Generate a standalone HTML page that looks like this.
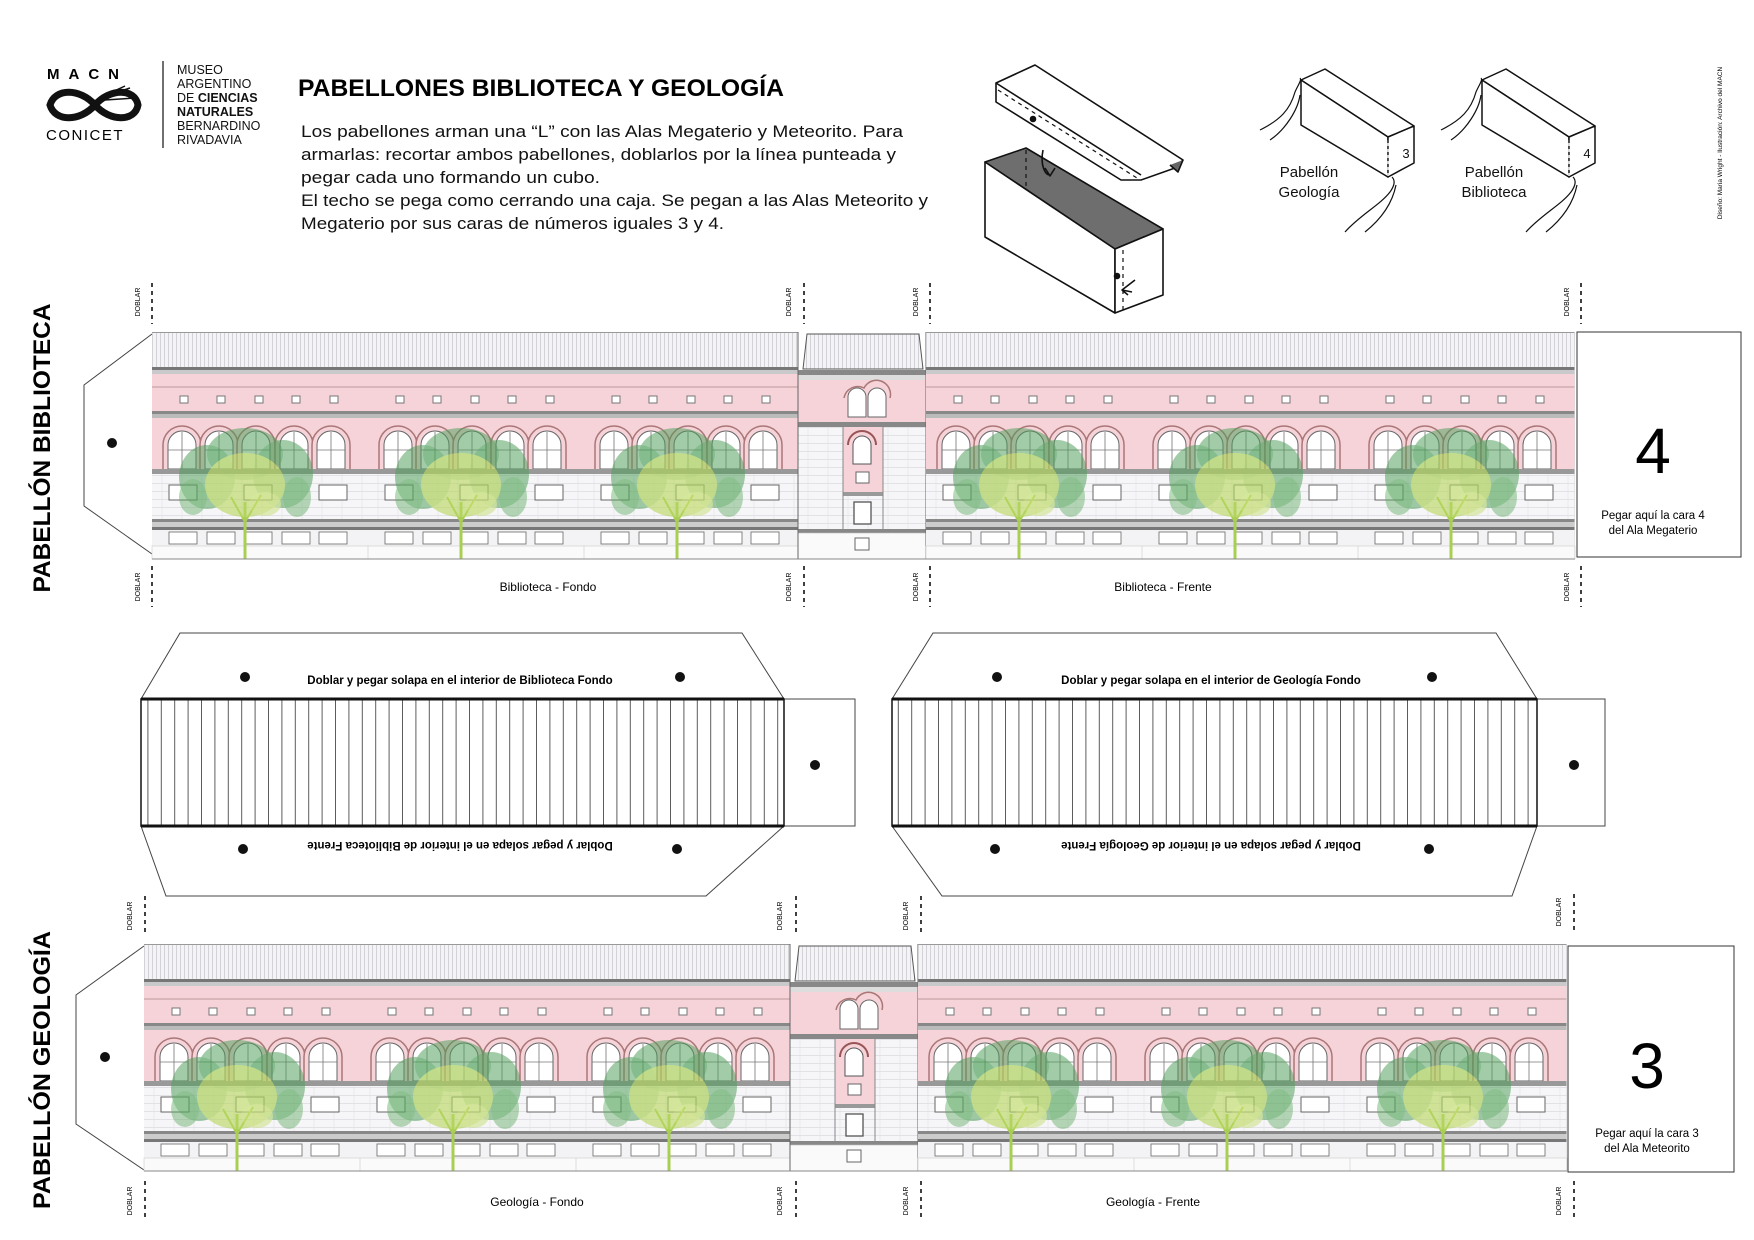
<!DOCTYPE html>
<html><head><meta charset="utf-8"><style>
html,body{margin:0;padding:0;background:#fff;}
svg{display:block;}
text{font-family:"Liberation Sans",sans-serif;}
</style></head><body>
<svg width="1754" height="1240" viewBox="0 0 1754 1240" xmlns="http://www.w3.org/2000/svg">
<defs>
<pattern id="vl" width="4" height="10" patternUnits="userSpaceOnUse"><rect width="4" height="10" fill="#f4f4f6"/><line x1="0.5" y1="0" x2="0.5" y2="10" stroke="#c4c4ca" stroke-width="0.7"/></pattern>
<pattern id="brick" width="20" height="8" patternUnits="userSpaceOnUse"><rect width="20" height="8" fill="#f6f5f7"/><line x1="0" y1="7.5" x2="20" y2="7.5" stroke="#dcdbe0" stroke-width="0.8"/><line x1="10" y1="0" x2="10" y2="8" stroke="#e2e1e6" stroke-width="0.6"/></pattern>
<pattern id="roofs" width="13.4" height="10" patternUnits="userSpaceOnUse"><rect width="13.4" height="10" fill="#fff"/><line x1="0.5" y1="0" x2="0.5" y2="10" stroke="#333" stroke-width="0.8"/></pattern>
<g id="tree">
<line x1="0" y1="50" x2="0" y2="107" stroke="#a9cf52" stroke-width="3"/>
<line x1="0" y1="70" x2="-14" y2="45" stroke="#a9cf52" stroke-width="2"/>
<line x1="0" y1="70" x2="16" y2="43" stroke="#a9cf52" stroke-width="2"/>
<g opacity="0.75">
<ellipse cx="-38" cy="25" rx="28" ry="32" fill="#4f9e5a" opacity="0.7"/>
<ellipse cx="38" cy="22" rx="30" ry="34" fill="#4f9e5a" opacity="0.7"/>
<ellipse cx="0" cy="2" rx="38" ry="26" fill="#4f9e5a" opacity="0.7"/>
<ellipse cx="-52" cy="45" rx="14" ry="18" fill="#5fae63" opacity="0.6"/>
<ellipse cx="52" cy="45" rx="14" ry="20" fill="#5fae63" opacity="0.6"/>
<ellipse cx="0" cy="33" rx="40" ry="32" fill="#b8d761" opacity="0.85"/>
<ellipse cx="20" cy="52" rx="16" ry="12" fill="#c9e07a" opacity="0.7"/>
</g>
</g>
<g id="arch">
<path d="M-19,137 V113 A19 19 0 0 1 19,113 V137" fill="#f5d3d9" stroke="#a77" stroke-width="1.5"/>
<path d="M-14,137 V113 A14 14 0 0 1 14,113 V137 Z" fill="#fff" stroke="#666" stroke-width="1"/>
<line x1="0" y1="100" x2="0" y2="137" stroke="#777" stroke-width="0.8"/>
<line x1="-14" y1="118" x2="14" y2="118" stroke="#777" stroke-width="0.8"/>
</g>
<g id="bay">
<rect x="0" y="0" width="217" height="35" fill="url(#vl)"/>
<line x1="0" y1="0.5" x2="217" y2="0.5" stroke="#999" stroke-width="1"/>
<rect x="0" y="35" width="217" height="3" fill="#777"/>
<rect x="0" y="38" width="217" height="4" fill="#c9c9cc"/>
<rect x="0" y="42" width="217" height="95" fill="#f5d3d9"/>
<line x1="0" y1="55" x2="217" y2="55" stroke="#b99" stroke-width="1"/>
<g fill="#fff" stroke="#777" stroke-width="1">
<rect x="28" y="64" width="8" height="7"/><rect x="65" y="64" width="8" height="7"/><rect x="103" y="64" width="8" height="7"/><rect x="140" y="64" width="8" height="7"/><rect x="178" y="64" width="8" height="7"/>
</g>
<rect x="0" y="79" width="217" height="3" fill="#888"/>
<rect x="0" y="82" width="217" height="4" fill="#bbb"/>
<use href="#arch" x="30"/><use href="#arch" x="67"/><use href="#arch" x="104"/><use href="#arch" x="142"/><use href="#arch" x="179"/>
<rect x="0" y="137" width="217" height="5" fill="#999"/>
<rect x="0" y="142" width="217" height="45" fill="url(#brick)"/>
<g fill="#fff" stroke="#666" stroke-width="1"><rect x="17" y="153" width="28" height="15"/><rect x="167" y="153" width="28" height="15"/><rect x="92" y="153" width="28" height="15"/></g>
<rect x="0" y="187" width="217" height="3" fill="#888"/>
<rect x="0" y="190" width="217" height="5" fill="#ccc"/>
<rect x="0" y="195" width="217" height="3" fill="#777"/>
<rect x="0" y="198" width="217" height="16" fill="#f3f3f5"/>
<g fill="#fff" stroke="#777" stroke-width="0.9"><rect x="17" y="200" width="28" height="12"/><rect x="55" y="200" width="28" height="12"/><rect x="92" y="200" width="28" height="12"/><rect x="130" y="200" width="28" height="12"/><rect x="167" y="200" width="28" height="12"/></g>
<rect x="0" y="214" width="217" height="13" fill="#fafafa" stroke="#ccc" stroke-width="0.6"/>
<use href="#tree" x="93" y="120"/>
<line x1="216.5" y1="0" x2="216.5" y2="227" stroke="#ddd" stroke-width="0.6"/>
</g>
<g id="tower">
<rect x="0" y="0" width="128" height="38" fill="#fff"/>
<path d="M5,37 L9,2 H121 L125,37 Z" fill="url(#vl)" stroke="#555" stroke-width="1"/>
<rect x="0" y="38" width="128" height="5" fill="#888"/>
<rect x="0" y="43" width="128" height="47" fill="#f5d3d9"/>
<rect x="0" y="43" width="128" height="5" fill="#ddd"/>
<path d="M50,85 V65 A9 9 0 0 1 68,65 V85 Z" fill="#fff" stroke="#666"/>
<path d="M70,85 V65 A9 9 0 0 1 88,65 V85 Z" fill="#fff" stroke="#666"/>
<path d="M46,66 A14 14 0 0 1 66,56 A14 14 0 0 1 92,66" fill="none" stroke="#a77" stroke-width="1.5"/>
<rect x="0" y="90" width="128" height="5" fill="#888"/>
<rect x="0" y="95" width="128" height="105" fill="url(#brick)"/>
<rect x="45" y="95" width="40" height="65" fill="#f5d3d9"/>
<path d="M55,132 V113 A9 9 0 0 1 73,113 V132 Z" fill="#fff" stroke="#555"/>
<path d="M50,113 A14 14 0 0 1 78,113" fill="none" stroke="#955" stroke-width="2"/>
<rect x="58" y="140" width="13" height="11" fill="#fff" stroke="#666"/>
<rect x="45" y="160" width="40" height="4" fill="#999"/>
<rect x="56" y="170" width="17" height="22" fill="#fff" stroke="#555" stroke-width="1.3"/>
<line x1="45" y1="95" x2="45" y2="200" stroke="#888"/><line x1="85" y1="95" x2="85" y2="200" stroke="#888"/>
<rect x="0" y="197" width="128" height="4" fill="#888"/>
<rect x="0" y="201" width="128" height="26" fill="#fafafa" stroke="#bbb" stroke-width="0.6"/>
<rect x="57" y="206" width="14" height="12" fill="#fff" stroke="#666"/>
<line x1="0" y1="0" x2="0" y2="227" stroke="#666" stroke-width="1"/>
<line x1="128" y1="0" x2="128" y2="227" stroke="#666" stroke-width="1"/>
</g>
<g id="strip">
<use href="#bay" x="0"/><use href="#bay" x="216"/><use href="#bay" x="432"/>
<use href="#tower" x="646"/>
<use href="#bay" x="774"/><use href="#bay" x="990"/><use href="#bay" x="1206"/>
<line x1="0" y1="227" x2="1423" y2="227" stroke="#888" stroke-width="1"/>
</g>
</defs>

<text x="47" y="79" font-family="Liberation Serif,serif" font-size="15" font-weight="bold" letter-spacing="9">MACN</text>
<path d="M50,105 C55,88 80,88 95,105 C110,122 135,122 138,105 C135,88 110,88 95,105 C80,122 55,122 50,105 Z" fill="none" stroke="#111" stroke-width="7"/>
<path d="M105,100 L135,98 M108,95 L130,88 M112,92 L125,86" stroke="#111" stroke-width="1.5"/>
<text x="46" y="140" font-family="Liberation Serif,serif" font-size="15" letter-spacing="1.5">CONICET</text>
<line x1="163" y1="61" x2="163" y2="148" stroke="#111" stroke-width="1.2"/>
<g font-size="12.5" fill="#111">
<text x="177" y="74">MUSEO</text>
<text x="177" y="88">ARGENTINO</text>
<text x="177" y="102">DE <tspan font-weight="bold">CIENCIAS</tspan></text>
<text x="177" y="116" font-weight="bold">NATURALES</text>
<text x="177" y="130">BERNARDINO</text>
<text x="177" y="144">RIVADAVIA</text>
</g>
<text x="298" y="96" font-size="24" font-weight="bold" textLength="486" lengthAdjust="spacingAndGlyphs">PABELLONES BIBLIOTECA Y GEOLOGÍA</text>
<g font-size="17" fill="#111">
<text x="301" y="137" textLength="602" lengthAdjust="spacingAndGlyphs">Los pabellones arman una “L” con las Alas Megaterio y Meteorito. Para</text>
<text x="301" y="160" textLength="595" lengthAdjust="spacingAndGlyphs">armarlas: recortar ambos pabellones, doblarlos por la línea punteada y</text>
<text x="301" y="183" textLength="299" lengthAdjust="spacingAndGlyphs">pegar cada uno formando un cubo.</text>
<text x="301" y="206" textLength="627" lengthAdjust="spacingAndGlyphs">El techo se pega como cerrando una caja. Se pegan a las Alas Meteorito y</text>
<text x="301" y="229" textLength="423" lengthAdjust="spacingAndGlyphs">Megaterio por sus caras de números iguales 3 y 4.</text>
</g>

<g stroke="#111" stroke-width="1.6" fill="#fff" stroke-linejoin="round">
<path d="M996,83 L1035,65 L1183,160 L1175,168 L1141,180 L1121,180 L996,102 Z"/>
<line x1="996" y1="83" x2="1141" y2="175" />
<path d="M1170,165 L1178,172 L1183,160" fill="#666"/>
<line x1="998" y1="90" x2="1137" y2="178" stroke-dasharray="4,4" stroke-width="1.2"/>
<circle cx="1033" cy="119" r="2.5" fill="#111"/>
<path d="M985,162 L1026,148 L1163,229 L1115,249 Z" fill="#6e6e6e"/>
<path d="M985,162 L1115,249 L1115,313 L985,237 Z"/>
<path d="M1115,249 L1163,229 L1163,295 L1115,313 Z"/>
<line x1="1123" y1="250" x2="1123" y2="312" stroke-dasharray="4,4" stroke-width="1.2"/>
<line x1="1026" y1="150" x2="1026" y2="187" stroke-dasharray="4,4" stroke-width="1.2"/>
<path d="M1043,150 C1040,165 1045,175 1050,175 M1045,168 L1050,176 L1055,168" fill="none"/>
<path d="M1135,280 L1122,290 L1128,295 M1122,290 L1132,292" fill="none"/>
<circle cx="1117" cy="276" r="2.5" fill="#111"/>
</g>
<g stroke="#111" stroke-width="1.5" fill="#fff" stroke-linejoin="round">
<path d="M1301,80 L1325,69 L1414,126 L1388,137 Z"/>
<path d="M1301,80 L1388,137 L1388,177 L1301,125 Z"/>
<path d="M1388,137 L1414,126 L1414,163 L1388,177 Z"/>
<line x1="1388" y1="140" x2="1388" y2="176" stroke="#fff"/>
<line x1="1388" y1="140" x2="1388" y2="176" stroke-dasharray="3,3" stroke-width="1.2"/>
<path d="M1260,130 C1280,120 1290,110 1295,92 C1298,85 1302,80 1300,78 M1270,140 C1285,130 1298,110 1300,95" fill="none" stroke-width="1.2"/>
<path d="M1345,232 C1360,215 1380,205 1390,192 C1395,185 1395,180 1392,177 M1365,232 C1380,220 1392,205 1396,185" fill="none" stroke-width="1.2"/>
<path d="M1482,80 L1506,69 L1595,126 L1569,137 Z"/>
<path d="M1482,80 L1569,137 L1569,177 L1482,125 Z"/>
<path d="M1569,137 L1595,126 L1595,163 L1569,177 Z"/>
<line x1="1569" y1="140" x2="1569" y2="176" stroke="#fff"/>
<line x1="1569" y1="140" x2="1569" y2="176" stroke-dasharray="3,3" stroke-width="1.2"/>
<path d="M1441,130 C1461,120 1471,110 1476,92 C1479,85 1483,80 1481,78 M1451,140 C1466,130 1479,110 1481,95" fill="none" stroke-width="1.2"/>
<path d="M1526,232 C1541,215 1561,205 1571,192 C1576,185 1576,180 1573,177 M1546,232 C1561,220 1573,205 1577,185" fill="none" stroke-width="1.2"/>
</g>
<g font-size="15" fill="#111" text-anchor="middle">
<text x="1406" y="158" font-size="13">3</text>
<text x="1587" y="158" font-size="13">4</text>
<text x="1309" y="177">Pabellón</text><text x="1309" y="197">Geología</text>
<text x="1494" y="177">Pabellón</text><text x="1494" y="197">Biblioteca</text>
</g>
<text transform="translate(1722,143) rotate(-90)" font-size="6.5" text-anchor="middle">Diseño: Maria Wright - Ilustración: Archivo del MACN</text>

<text transform="translate(50,448) rotate(-90)" font-size="24" font-weight="bold" text-anchor="middle" textLength="289" lengthAdjust="spacingAndGlyphs">PABELLÓN BIBLIOTECA</text>
<text transform="translate(50,1070) rotate(-90)" font-size="24" font-weight="bold" text-anchor="middle" textLength="278" lengthAdjust="spacingAndGlyphs">PABELLÓN GEOLOGÍA</text>

<path d="M152,334 L84,385 L84,506 L152,554" fill="#fff" stroke="#444" stroke-width="1"/>
<circle cx="112" cy="443" r="5" fill="#111"/>
<use href="#strip" x="152" y="332"/>
<rect x="1577" y="332" width="164" height="225" fill="#fff" stroke="#333" stroke-width="1"/>
<text x="1653" y="473" font-size="64" text-anchor="middle">4</text>
<text x="1653" y="519" font-size="11.5" text-anchor="middle">Pegar aquí la cara 4</text>
<text x="1653" y="534" font-size="11.5" text-anchor="middle">del Ala Megaterio</text>
<g stroke="#111" stroke-width="1.6" stroke-dasharray="4,4">
<line x1="152" y1="283" x2="152" y2="324"/><line x1="804" y1="283" x2="804" y2="324"/><line x1="930" y1="283" x2="930" y2="324"/><line x1="1581" y1="283" x2="1581" y2="324"/>
<line x1="152" y1="566" x2="152" y2="607"/><line x1="804" y1="566" x2="804" y2="607"/><line x1="930" y1="566" x2="930" y2="607"/><line x1="1581" y1="566" x2="1581" y2="607"/>
</g>
<g font-size="7" text-anchor="middle">
<text transform="translate(140,302) rotate(-90)">DOBLAR</text><text transform="translate(791,302) rotate(-90)">DOBLAR</text><text transform="translate(918,302) rotate(-90)">DOBLAR</text><text transform="translate(1569,302) rotate(-90)">DOBLAR</text>
<text transform="translate(140,587) rotate(-90)">DOBLAR</text><text transform="translate(791,587) rotate(-90)">DOBLAR</text><text transform="translate(918,587) rotate(-90)">DOBLAR</text><text transform="translate(1569,587) rotate(-90)">DOBLAR</text>
</g>
<text x="548" y="591" font-size="12" text-anchor="middle">Biblioteca - Fondo</text>
<text x="1163" y="591" font-size="12" text-anchor="middle">Biblioteca - Frente</text>

<g stroke="#444" stroke-width="1" fill="#fff">
<path d="M141,699 L180,633 L742,633 L784,699"/>
<path d="M141,826 L166,896 L706,896 L784,826"/>
<rect x="784" y="699" width="71" height="127"/>
<rect x="141" y="699" width="643" height="127" fill="url(#roofs)" stroke="#111" stroke-width="1.5"/>
<line x1="141" y1="699" x2="784" y2="699" stroke="#111" stroke-width="3"/>
<line x1="141" y1="826" x2="784" y2="826" stroke="#111" stroke-width="3"/>
<path d="M892,699 L933,633 L1496,633 L1537,699"/>
<path d="M892,826 L942,896 L1512,896 L1537,826"/>
<rect x="1537" y="699" width="68" height="127"/>
<rect x="892" y="699" width="645" height="127" fill="url(#roofs)" stroke="#111" stroke-width="1.5"/>
<line x1="892" y1="699" x2="1537" y2="699" stroke="#111" stroke-width="3"/>
<line x1="892" y1="826" x2="1537" y2="826" stroke="#111" stroke-width="3"/>
</g>
<g fill="#111">
<circle cx="245" cy="677" r="5"/><circle cx="680" cy="677" r="5"/><circle cx="243" cy="849" r="5"/><circle cx="677" cy="849" r="5"/><circle cx="815" cy="765" r="5"/>
<circle cx="997" cy="677" r="5"/><circle cx="1432" cy="677" r="5"/><circle cx="995" cy="849" r="5"/><circle cx="1429" cy="849" r="5"/><circle cx="1574" cy="765" r="5"/>
</g>
<g font-size="11.5" text-anchor="middle" font-weight="bold">
<text x="460" y="684">Doblar y pegar solapa en el interior de Biblioteca Fondo</text>
<text x="1211" y="684">Doblar y pegar solapa en el interior de Geología Fondo</text>
<text transform="translate(460,842) rotate(180)">Doblar y pegar solapa en el interior de Biblioteca Frente</text>
<text transform="translate(1211,842) rotate(180)">Doblar y pegar solapa en el interior de Geología Frente</text>
</g>

<path d="M144,946 L76,995 L76,1124 L144,1170" fill="#fff" stroke="#444" stroke-width="1"/>
<circle cx="105" cy="1057" r="5" fill="#111"/>
<use href="#strip" x="144" y="944"/>
<rect x="1568" y="946" width="166" height="226" fill="#fff" stroke="#333" stroke-width="1"/>
<text x="1647" y="1088" font-size="64" text-anchor="middle">3</text>
<text x="1647" y="1137" font-size="11.5" text-anchor="middle">Pegar aquí la cara 3</text>
<text x="1647" y="1152" font-size="11.5" text-anchor="middle">del Ala Meteorito</text>
<g stroke="#111" stroke-width="1.6" stroke-dasharray="4,4">
<line x1="145" y1="896" x2="145" y2="935"/><line x1="796" y1="896" x2="796" y2="935"/><line x1="921" y1="896" x2="921" y2="935"/><line x1="1574" y1="894" x2="1574" y2="933"/>
<line x1="145" y1="1181" x2="145" y2="1220"/><line x1="796" y1="1181" x2="796" y2="1220"/><line x1="921" y1="1181" x2="921" y2="1220"/><line x1="1574" y1="1181" x2="1574" y2="1220"/>
</g>
<g font-size="7" text-anchor="middle">
<text transform="translate(132,916) rotate(-90)">DOBLAR</text><text transform="translate(782,916) rotate(-90)">DOBLAR</text><text transform="translate(908,916) rotate(-90)">DOBLAR</text><text transform="translate(1561,912) rotate(-90)">DOBLAR</text>
<text transform="translate(132,1201) rotate(-90)">DOBLAR</text><text transform="translate(782,1201) rotate(-90)">DOBLAR</text><text transform="translate(908,1201) rotate(-90)">DOBLAR</text><text transform="translate(1561,1201) rotate(-90)">DOBLAR</text>
</g>
<text x="537" y="1206" font-size="12" text-anchor="middle">Geología - Fondo</text>
<text x="1153" y="1206" font-size="12" text-anchor="middle">Geología - Frente</text>
</svg>
</body></html>
